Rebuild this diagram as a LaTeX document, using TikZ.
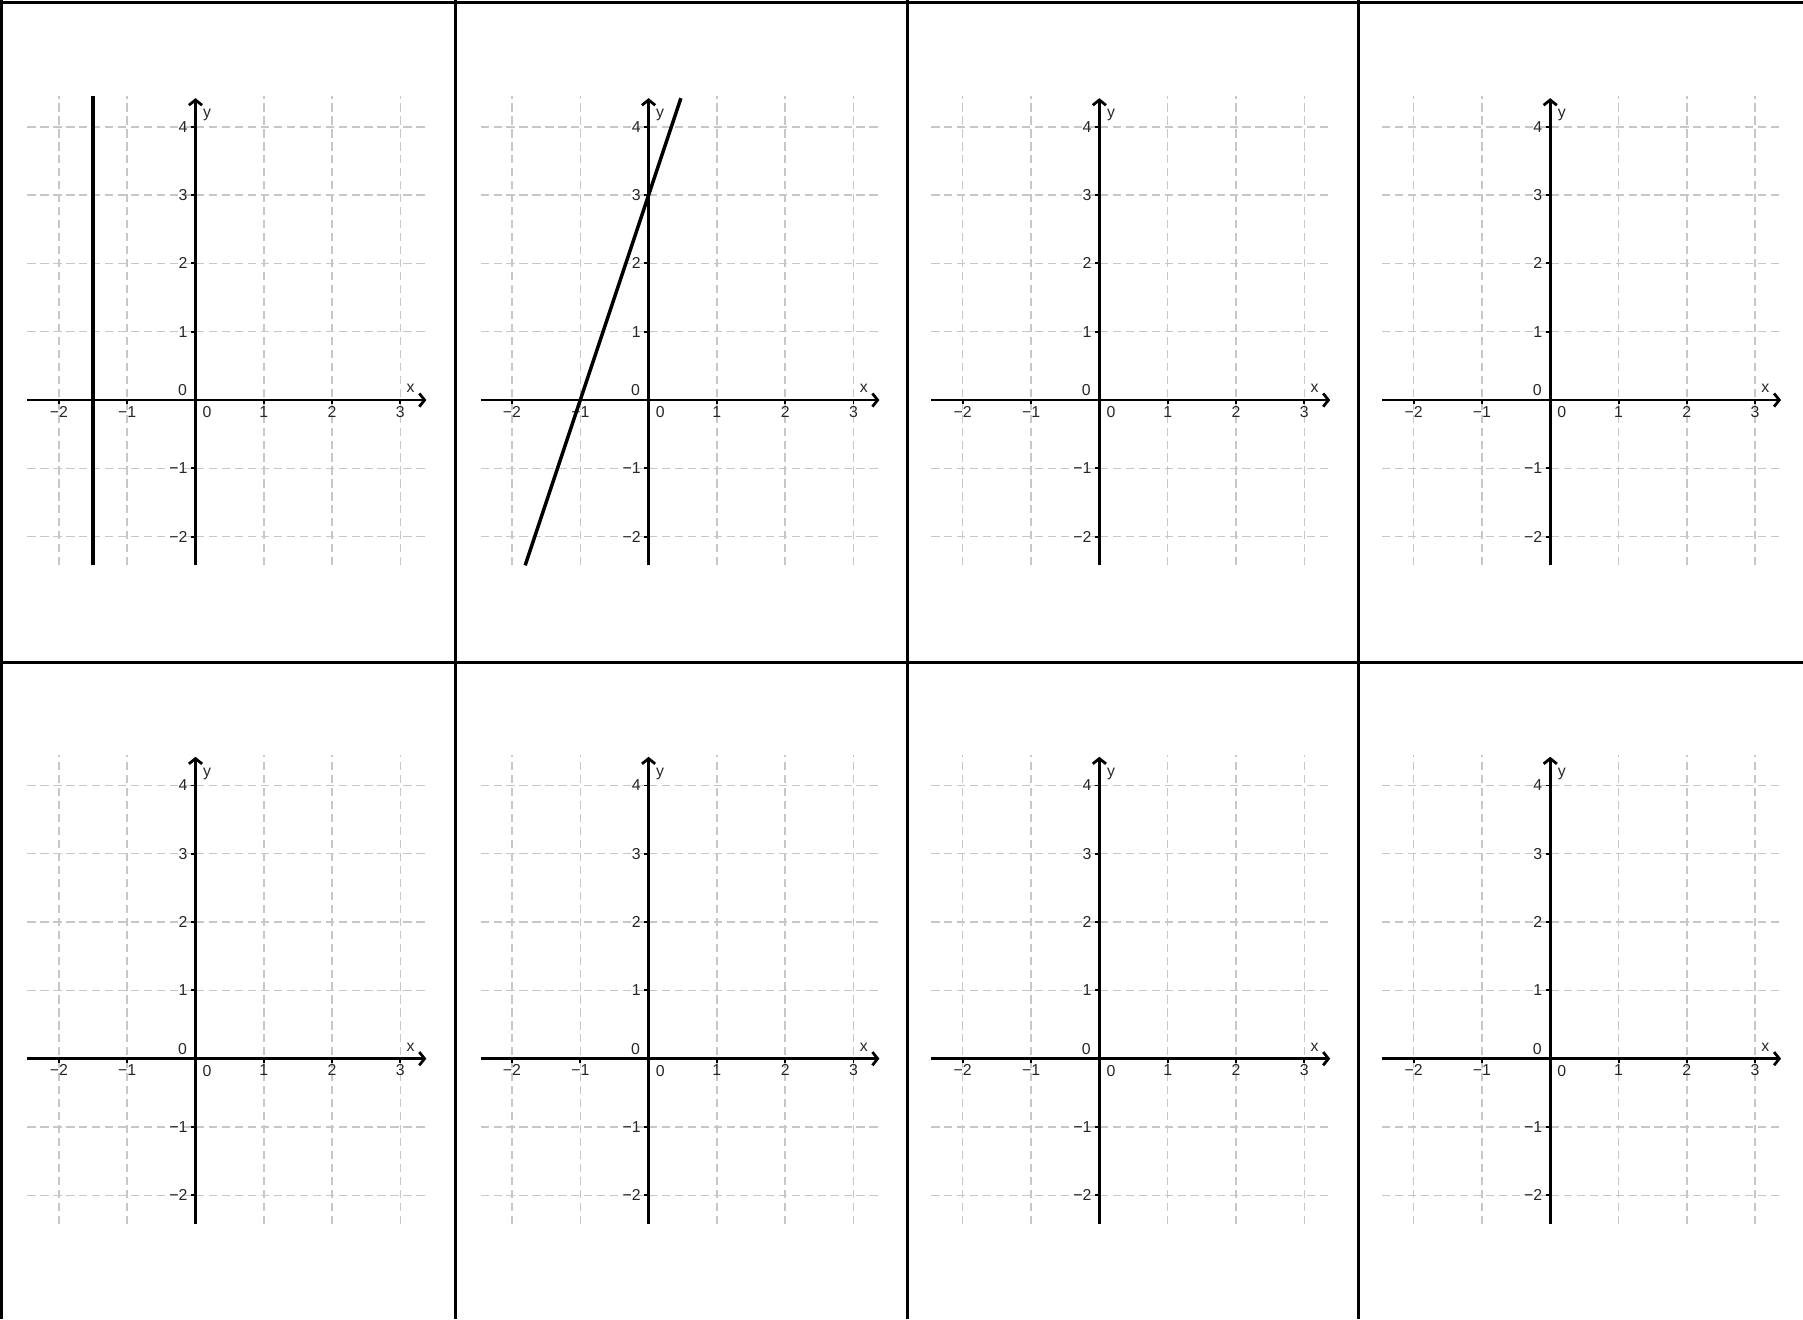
\documentclass[tikz,border=0pt]{standalone}
\usepackage{fontspec}
\setmainfont{Liberation Sans}
\usepackage{tikz}
\usetikzlibrary{arrows.meta, calc}

\tikzset{
  gridline/.style={draw=black!22, line width=0.6pt, dash pattern=on 3.4pt off 2pt},
  axisline/.style={line width=1.15pt, -{Straight Barb[length=2.2pt, width=5.5pt]}},
  tickmark/.style={line width=0.8pt},
  ticklab/.style={font=\fontsize{6.6}{7.5}\selectfont, text=black!85, inner sep=0pt},
  graphline/.style={line width=1.45pt},
  tablerule/.style={line width=1.3pt},
  % one coordinate grid, x from -2 to 3, y from -2 to 4
  pics/axes/.style={code={
    \coordinate (-o) at (0,0);
    \foreach \gx in {-2,-1,1,2,3}
      \draw[gridline] (\gx,-2.42) -- (\gx,4.45);
    \foreach \gy in {-2,-1,1,2,3,4}
      \draw[gridline] (-2.46,\gy) -- (3.42,\gy);
    \draw[axisline] (-2.46,0) -- (3.38,0);
    \draw[axisline] (0,-2.42) -- (0,4.42);
    \foreach \gx/\gt in {-2/−2,-1/−1,1/1,2/2,3/3} {
      \draw[tickmark] (\gx,0) -- (\gx,-0.06);
      \node[ticklab] (-xl\gx) at (\gx,-0.17) {\gt};
    }
    \foreach \gy/\gt in {-2/−2,-1/−1,1/1,2/2,3/3,4/4} {
      \draw[tickmark] (0,\gy) -- (-0.06,\gy);
      \node[ticklab, anchor=east] (-yl\gy) at (-0.11,\gy) {\gt};
    }
    \node[ticklab] (-xzero) at (0.17,-0.18) {0};
    \node[ticklab] (-yzero) at (-0.19,0.14) {0};
    \node[ticklab] (-xname) at (3.15,0.17) {x};
    \node[ticklab] (-yname) at (0.17,4.17) {y};
  }}
}

\begin{document}
\begin{tikzpicture}

\useasboundingbox (0,-19.312) rectangle (26.398,0);

% ===== table rules =====
\draw[tablerule] (0,-0.037) -- (26.398,-0.037);
\draw[tablerule] (0,-9.700) -- (26.398,-9.700);
\draw[tablerule] (0.022,0) -- (0.022,-19.312);
\draw[tablerule] (6.668,0) -- (6.668,-19.312);
\draw[tablerule] (13.284,0) -- (13.284,-19.312);
\draw[tablerule] (19.886,0) -- (19.886,-19.312);

% ===== top row =====
\pic (p1) at (2.862,-5.857) {axes};
\pic (p2) at (9.496,-5.857) {axes};
\pic (p3) at (16.096,-5.857) {axes};
\pic (p4) at (22.697,-5.857) {axes};

% ===== bottom row =====
\pic (p5) at (2.862,-15.50) {axes};
\pic (p6) at (9.496,-15.50) {axes};
\pic (p7) at (16.096,-15.50) {axes};
\pic (p8) at (22.697,-15.50) {axes};

% x = -1.5
\draw[graphline] ($(p1-o)+(-1.5,-2.42)$) -- ($(p1-o)+(-1.5,4.45)$);

% y = 3x + 3
\draw[graphline] ($(p2-o)+(-1.807,-2.42)$) -- ($(p2-o)+(0.473,4.42)$);

\end{tikzpicture}
\end{document}
